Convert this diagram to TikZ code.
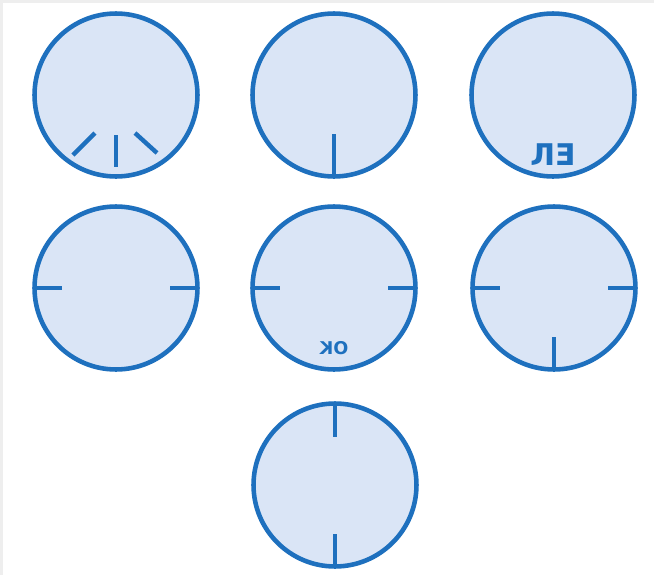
\documentclass[tikz,border=0pt]{standalone}
\usepackage{fontspec}
\usepackage{graphicx}
\usepackage{tikz}
\usetikzlibrary{positioning, calc}
\newfontfamily\dialfont{DejaVu Sans}
\definecolor{dialblue}{RGB}{30,112,190}
\definecolor{dialfill}{RGB}{218,229,246}
\definecolor{framegray}{RGB}{238,238,238}
\tikzstyle{dial} = [circle, draw=dialblue, fill=dialfill, line width=2.6pt, minimum size=3.26cm, inner sep=0pt, outer sep=0pt]
\tikzstyle{tick} = [draw=dialblue, line width=2.5pt]
\tikzstyle{dialtext} = [text=dialblue, inner sep=0pt, font=\dialfont\bfseries]

\begin{document}
\begin{tikzpicture}[x=0.02cm, y=-0.02cm]
\fill[framegray] (0,0) rectangle (654,575);
\fill[white] (3,3) rectangle (654,575);
\useasboundingbox (0,0) rectangle (654,575);

\node[dial] (dialA) at (116,95) {};
\node[dial] (dialB) at (334,95) {};
\node[dial] (dialC) at (553,95) {};
\node[dial] (dialD) at (116,288) {};
\node[dial] (dialE) at (334,288) {};
\node[dial] (dialF) at (554,288) {};
\node[dial] (dialG) at (335,485) {};

% three marks at the bottom
\draw[tick] ($(dialA.center)+(0,40)$) -- ($(dialA.center)+(0,72)$);
\draw[tick] ($(dialA.center)+(-43,60)$) -- ($(dialA.center)+(-21,38)$);
\draw[tick] ($(dialA.center)+(19,38)$) -- ($(dialA.center)+(41,58)$);

\draw[tick] (dialB.south) -- ++(0,-42);

\node[dialtext, font=\dialfont\bfseries\fontsize{17}{17}\selectfont, above=6pt of dialC.south] (textC) {Л\reflectbox{E}};

\draw[tick] (dialD.west) -- ++(27,0);
\draw[tick] (dialD.east) -- ++(-27,0);

\draw[tick] (dialE.west) -- ++(27,0);
\draw[tick] (dialE.east) -- ++(-27,0);
\node[dialtext, font=\dialfont\bfseries\fontsize{10}{10}\selectfont, above=8pt of dialE.south] (textE) {\reflectbox{OK}};

\draw[tick] (dialF.west) -- ++(27,0);
\draw[tick] (dialF.east) -- ++(-27,0);
\draw[tick] (dialF.south) -- ++(0,-32);

\draw[tick] (dialG.north) -- ++(0,33);
\draw[tick] (dialG.south) -- ++(0,-32);
\end{tikzpicture}
\end{document}
